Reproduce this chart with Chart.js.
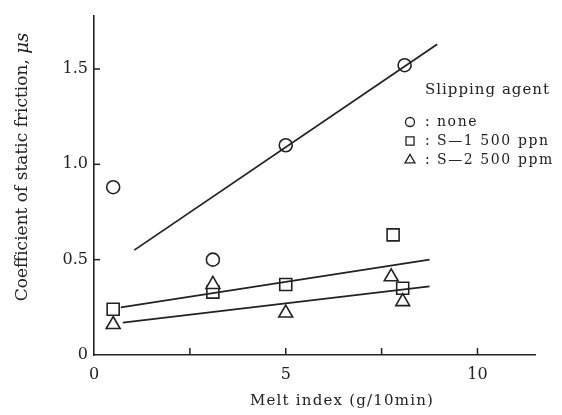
<!DOCTYPE html>
<html lang="en">
<head>
<meta charset="UTF-8">
<title>Coefficient of static friction vs melt index</title>
<script src="https://cdn.jsdelivr.net/npm/chart.js"></script>
<style>
    body { margin: 0; background: #fff; }
    #wrap { width: 562px; height: 415px; }
</style>
</head>
<body>
<div id="wrap"><canvas id="chart" width="562" height="415"></canvas></div>
<script>
    const noneX = [0.5, 3.1, 5.0, 8.1];
    const noneY = [0.88, 0.50, 1.10, 1.52];
    const s1X = [0.5, 3.1, 5.0, 7.8, 8.05];
    const s1Y = [0.24, 0.33, 0.37, 0.63, 0.35];
    const s2X = [0.5, 3.1, 5.0, 7.75, 8.05];
    const s2Y = [0.16, 0.37, 0.22, 0.41, 0.28];

    // fitted lines (end points)
    const noneFitX = [1.05, 8.95];
    const noneFitY = [0.55, 1.63];
    const s1FitX = [0.7, 8.75];
    const s1FitY = [0.25, 0.50];
    const s2FitX = [0.75, 8.75];
    const s2FitY = [0.17, 0.36];

    // axes
    const xTicks = [0, 2.5, 5, 7.5, 10];
    const xLabels = ['0', '', '5', '', '10'];
    const yTicks = [0, 0.5, 1.0, 1.5];
    const yLabels = ['0', '0.5', '1.0', '1.5'];

    const legendTitle = 'Slipping agent';
    const legendNames = ['none', 'S\u20141 500 ppn', 'S\u20142 500 ppm'];
    const legendStyles = ['circle', 'rect', 'triangle'];

    const ink = '#222';
    const serif = "'DejaVu Serif', serif";

    const pts = (xs, ys) => xs.map((x, i) => ({ x: x, y: ys[i] }));

    function markers(data, style, radius) {
        return {
            data: data, showLine: false,
            pointStyle: style, pointRadius: radius,
            backgroundColor: '#fff', borderColor: ink, pointBorderWidth: 1.6
        };
    }
    function fit(data) {
        return {
            data: data, showLine: true, pointRadius: 0,
            borderColor: ink, borderWidth: 1.8
        };
    }

    // inner tick marks, axis titles and the legend
    const extras = {
        id: 'extras',
        afterDraw(chart) {
            const { ctx, scales: { x, y } } = chart;
            ctx.save();
            ctx.strokeStyle = ink;
            ctx.lineWidth = 1.5;
            xTicks.forEach(v => {
                if (v === 0) return;
                const px = x.getPixelForValue(v);
                ctx.beginPath();
                ctx.moveTo(px, y.bottom);
                ctx.lineTo(px, y.bottom - 7);
                ctx.stroke();
            });
            yTicks.forEach(v => {
                if (v === 0) return;
                const py = y.getPixelForValue(v);
                ctx.beginPath();
                ctx.moveTo(x.left, py);
                ctx.lineTo(x.left + 6, py);
                ctx.stroke();
            });

            ctx.fillStyle = ink;
            ctx.textBaseline = 'middle';

            // x title
            ctx.font = '15px ' + serif;
            ctx.letterSpacing = '1.2px';
            ctx.textAlign = 'center';
            ctx.fillText('Melt index (g/10min)', 342, 401);
            ctx.letterSpacing = '0px';

            // y title
            ctx.save();
            ctx.translate(23, 167);
            ctx.rotate(-Math.PI / 2);
            const main = 'Coefficient of static friction, ';
            ctx.font = '17px ' + serif;
            const w1 = ctx.measureText(main).width;
            ctx.font = 'italic 18px ' + serif;
            const w2 = ctx.measureText('\u03bcs').width;
            ctx.textAlign = 'left';
            ctx.font = '17px ' + serif;
            ctx.fillText(main, -(w1 + w2) / 2, 0);
            ctx.font = 'italic 18px ' + serif;
            ctx.fillText('\u03bcs', -(w1 + w2) / 2 + w1, 0);
            ctx.restore();

            // legend
            ctx.textAlign = 'left';
            ctx.font = '15px ' + serif;
            ctx.letterSpacing = '1px';
            ctx.fillText(legendTitle, 425, 90);
            ctx.font = '14px ' + serif;
            legendNames.forEach((name, i) => {
                const ly = 122 + i * 19;
                ctx.fillStyle = '#fff';
                ctx.strokeStyle = ink;
                ctx.lineWidth = 1.3;
                const r = legendStyles[i] === 'circle' ? 4.5 : 5.7;
                Chart.helpers.drawPoint(ctx, { pointStyle: legendStyles[i], radius: r, borderWidth: 1.3 }, 410, ly);
                ctx.fillStyle = ink;
                ctx.letterSpacing = '0px';
                ctx.fillText(':', 425, ly);
                ctx.letterSpacing = '1.6px';
                ctx.fillText(name, 437, ly);
            });
            ctx.restore();
        }
    };

    new Chart(document.getElementById('chart'), {
        type: 'scatter',
        data: {
            datasets: [
                fit(pts(noneFitX, noneFitY)),
                fit(pts(s1FitX, s1FitY)),
                fit(pts(s2FitX, s2FitY)),
                markers(pts(noneX, noneY), 'circle', 6.5),
                markers(pts(s2X, s2Y), 'triangle', 8),
                markers(pts(s1X, s1Y), 'rect', 8.5)
            ]
        },
        options: {
            responsive: false,
            animation: false,
            layout: { padding: { top: 12, right: 27, left: 0, bottom: 0 } },
            plugins: { legend: { display: false }, tooltip: { enabled: false } },
            scales: {
                x: {
                    type: 'linear', min: 0, max: 11.5,
                    afterFit: s => { s.height = 60; },
                    afterBuildTicks: s => { s.ticks = xTicks.map(v => ({ value: v })); },
                    grid: { display: false, drawTicks: false },
                    border: { display: true, color: ink, width: 1.6 },
                    ticks: {
                        padding: 10, color: ink, maxRotation: 0, autoSkip: false,
                        font: { family: serif, size: 16 },
                        callback: (v, i) => xLabels[i]
                    }
                },
                y: {
                    type: 'linear', min: 0, max: 1.78,
                    afterFit: s => { s.width = 94; },
                    afterBuildTicks: s => { s.ticks = yTicks.map(v => ({ value: v })); },
                    grid: { display: false, drawTicks: false },
                    border: { display: true, color: ink, width: 1.6 },
                    ticks: {
                        padding: 6, color: ink, autoSkip: false,
                        font: { family: serif, size: 16 },
                        callback: (v, i) => yLabels[i]
                    }
                }
            }
        },
        plugins: [extras]
    });
</script>
</body>
</html>
